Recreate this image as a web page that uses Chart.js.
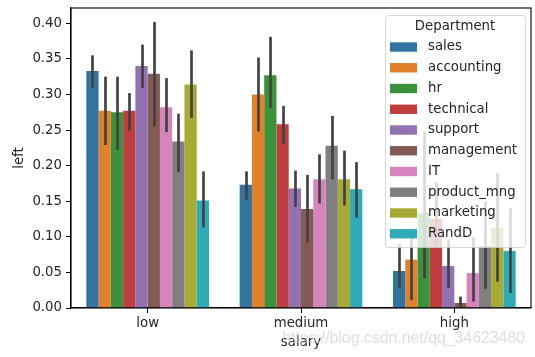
<!DOCTYPE html>
<html><head><meta charset="utf-8">
<script src="https://cdn.jsdelivr.net/npm/chart.js@4"></script>
<style>html,body{margin:0;padding:0;background:#fff}#wrap{width:535px;height:357px}</style>
</head><body><div id="wrap"><canvas id="c" width="535" height="357"></canvas></div>
<script>
const categories = ['low', 'medium', 'high'];
const departments = ['sales','accounting','hr','technical','support','management','IT','product_mng','marketing','RandD'];
const colors = ['#3274a1','#e1812c','#3a923a','#c03d3e','#9372b2','#845b53','#d684bd','#7f7f7f','#a9aa35','#2eabb8'];
const yTicks = [0.00, 0.05, 0.10, 0.15, 0.20, 0.25, 0.30, 0.35, 0.40];

const meanLow    = [0.333,0.277,0.275,0.277,0.340,0.329,0.282,0.234,0.314,0.151];
const meanMedium = [0.173,0.300,0.327,0.258,0.168,0.139,0.181,0.228,0.181,0.167];
const meanHigh   = [0.052,0.068,0.133,0.125,0.059,0.007,0.049,0.087,0.113,0.080];

const ciLoLow    = [0.309,0.229,0.222,0.249,0.309,0.255,0.247,0.191,0.267,0.113];
const ciHiLow    = [0.355,0.325,0.325,0.302,0.370,0.402,0.323,0.273,0.362,0.192];
const ciLoMedium = [0.152,0.248,0.281,0.231,0.142,0.092,0.147,0.181,0.144,0.127];
const ciHiMedium = [0.192,0.352,0.381,0.284,0.193,0.187,0.216,0.270,0.221,0.205];
const ciLoHigh   = [0.028,0.011,0.042,0.085,0.028,0.000,0.009,0.027,0.037,0.021];
const ciHiHigh   = [0.090,0.110,0.248,0.177,0.095,0.016,0.100,0.150,0.189,0.140];

const FONT = 'DejaVu Sans';
const FS = 13.3;
const TXT = '#262626';

const datasets = departments.map((d, i) => ({
  label: d,
  data: [meanLow[i], meanMedium[i], meanHigh[i]],
  ciLo: [ciLoLow[i], ciLoMedium[i], ciLoHigh[i]],
  ciHi: [ciHiLow[i], ciHiMedium[i], ciHiHigh[i]],
  backgroundColor: colors[i],
  borderWidth: 0,
  categoryPercentage: 0.8,
  barPercentage: 1.0
}));

const errorBars = {
  id: 'errorBars',
  afterDatasetsDraw(chart) {
    const ctx = chart.ctx, ys = chart.scales.y;
    ctx.save();
    ctx.strokeStyle = '#424242';
    ctx.lineWidth = 2.7;
    chart.data.datasets.forEach((ds, di) => {
      const meta = chart.getDatasetMeta(di);
      meta.data.forEach((el, j) => {
        const x = Math.round(el.x) + 0.5;
        ctx.beginPath();
        ctx.moveTo(x, ys.getPixelForValue(ds.ciLo[j]));
        ctx.lineTo(x, ys.getPixelForValue(ds.ciHi[j]));
        ctx.stroke();
      });
    });
    ctx.restore();
  }
};

const frame = {
  id: 'frame',
  afterDraw(chart) {
    const ctx = chart.ctx, a = chart.chartArea;
    ctx.save();
    ctx.strokeStyle = '#000';
    ctx.lineWidth = 1.1;
    ctx.strokeRect(a.left, a.top, a.right - a.left, a.bottom - a.top);
    // legend
    const lx = 385, ly = 15, lw = 140, lh = 232, r = 3;
    ctx.fillStyle = 'rgba(255,255,255,0.8)';
    ctx.strokeStyle = 'rgba(204,204,204,0.8)';
    ctx.lineWidth = 1;
    ctx.beginPath();
    ctx.roundRect(lx + 0.5, ly + 0.5, lw, lh, r);
    ctx.fill(); ctx.stroke();
    ctx.font = FS + 'px "' + FONT + '"';
    ctx.fillStyle = TXT;
    ctx.textAlign = 'center';
    ctx.textBaseline = 'middle';
    ctx.fillText('Department', lx + lw / 2, 27);
    ctx.textAlign = 'left';
    chart.data.datasets.forEach((ds, i) => {
      const cy = 47 + i * 20.75;
      ctx.fillStyle = ds.backgroundColor;
      ctx.fillRect(390, cy - 4.7, 27, 9.4);
      ctx.fillStyle = TXT;
      ctx.fillText(ds.label, 428, cy);
    });
    // watermark
    const wm = 'https://blog.csdn.net/qq_34623480';
    ctx.font = '17px "Liberation Sans"';
    const w = ctx.measureText(wm).width;
    ctx.save();
    ctx.translate(282, 338);
    ctx.scale(243 / w, 1);
    ctx.fillStyle = 'rgba(200,200,200,0.6)';
    ctx.textAlign = 'left';
    ctx.fillText(wm, 0, 0);
    ctx.restore();
    ctx.restore();
  }
};

new Chart(document.getElementById('c'), {
  type: 'bar',
  data: { labels: categories, datasets },
  plugins: [errorBars, frame],
  options: {
    responsive: false,
    animation: false,
    devicePixelRatio: 1,
    layout: { padding: { left: 0, right: 4, top: 8, bottom: 0 } },
    plugins: { legend: { display: false }, tooltip: { enabled: false } },
    scales: {
      x: {
        grid: { display: true, drawOnChartArea: false, drawTicks: true, tickLength: 5, color: '#000', offset: false },
        border: { display: true, color: '#000', width: 1.1 },
        ticks: { color: TXT, font: { family: FONT, size: FS }, padding: 3 },
        title: { display: true, text: 'salary', color: TXT, font: { family: FONT, size: FS }, padding: { top: 0, bottom: 6 } },
        afterFit(s) { s.height = 49; s.paddingLeft = 0; s.paddingRight = 0; }
      },
      y: {
        min: 0, max: 0.4215,
        grid: { display: true, drawOnChartArea: false, drawTicks: true, tickLength: 5, color: '#000' },
        border: { display: true, color: '#000', width: 1.1 },
        ticks: { color: TXT, font: { family: FONT, size: FS }, padding: 4,
                 callback: v => Number(v).toFixed(2) },
        afterBuildTicks(s) { s.ticks = yTicks.map(v => ({ value: v })); },
        title: { display: true, text: 'left', color: TXT, font: { family: FONT, size: FS }, padding: { top: 12, bottom: 4 } },
        afterFit(s) { s.width = 71; s.paddingTop = 0; s.paddingBottom = 0; }
      }
    }
  }
});
</script></body></html>
